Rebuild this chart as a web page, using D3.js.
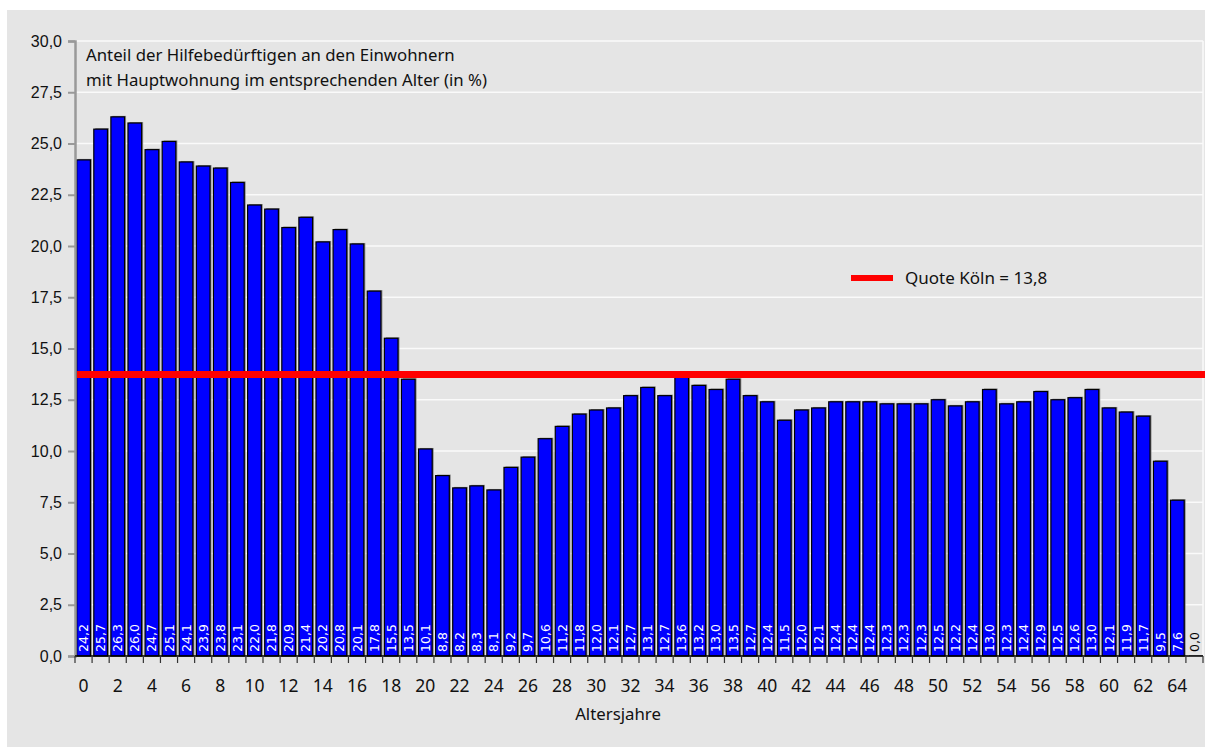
<!DOCTYPE html>
<html>
<head>
<meta charset="utf-8">
<script src="https://cdn.jsdelivr.net/npm/d3@7"></script>
<style>
  body { margin: 0; background: #fff; }
</style>
</head>
<body>
<div id="chart"></div>
<script>
// ages 0..65
let ages = d3.range(0, 66);

// share of people in need per age (in %)
let quoten = [
    24.2, 25.7, 26.3, 26.0, 24.7, 25.1, 24.1, 23.9, 23.8, 23.1,
    22.0, 21.8, 20.9, 21.4, 20.2, 20.8, 20.1, 17.8, 15.5, 13.5,
    10.1, 8.8, 8.2, 8.3, 8.1, 9.2, 9.7, 10.6, 11.2, 11.8,
    12.0, 12.1, 12.7, 13.1, 12.7, 13.6, 13.2, 13.0, 13.5, 12.7,
    12.4, 11.5, 12.0, 12.1, 12.4, 12.4, 12.4, 12.3, 12.3, 12.3,
    12.5, 12.2, 12.4, 13.0, 12.3, 12.4, 12.9, 12.5, 12.6, 13.0,
    12.1, 11.9, 11.7, 9.5, 7.6, 0.0
];

let quoteKoeln = 13.8;

let yTicks = [0, 2.5, 5, 7.5, 10, 12.5, 15, 17.5, 20, 22.5, 25, 27.5, 30];

let titleLines = [
    "Anteil der Hilfebedürftigen an den Einwohnern",
    "mit Hauptwohnung im entsprechenden Alter (in %)"
];

let width = 1205;
let height = 747;

var margin = {
    top: 41,
    right: 2,
    bottom: 91,
    left: 75
};

var svg = d3.select("#chart")
    .append("svg")
    .attr("width", width)
    .attr("height", height);

// grey frame
svg.append("rect")
    .attr("x", 7)
    .attr("y", 10)
    .attr("width", width - 7)
    .attr("height", height - 10)
    .attr("fill", "#e5e5e5");

var fmt = function (v) {
    return d3.format(".1f")(v).replace(".", ",");
}

// scales
var x = d3.scaleBand()
    .domain(ages)
    .range([margin.left, width - margin.right])
    .paddingInner(0.2)
    .paddingOuter(0.1);

var xEdge = d3.scaleLinear()
    .domain([0, ages.length])
    .range([margin.left, width - margin.right]);

var y = d3.scaleLinear()
    .domain([0, 30])
    .range([height - margin.bottom, margin.top]);

// gridlines
svg.append("g")
    .selectAll("line")
    .data(yTicks.slice(1))
    .enter()
    .append("line")
    .attr("x1", margin.left)
    .attr("x2", width - margin.right)
    .attr("y1", d => y(d))
    .attr("y2", d => y(d))
    .attr("stroke", "#fafafa")
    .attr("stroke-width", 1.5);

svg.append("line")
    .attr("x1", width - margin.right)
    .attr("x2", width - margin.right)
    .attr("y1", y(30))
    .attr("y2", y(0))
    .attr("stroke", "#fafafa")
    .attr("stroke-width", 1.5);

// title
svg.append("g")
    .selectAll("text")
    .data(titleLines)
    .enter()
    .append("text")
    .attr("x", 86)
    .attr("y", (d, i) => 61 + i * 25)
    .attr("font-family", "Noto Sans")
    .attr("font-size", 16.8)
    .attr("fill", "#111")
    .text(d => d);

// bars with shadow
svg.append("g")
    .selectAll("rect")
    .data(quoten)
    .enter()
    .append("rect")
    .attr("x", (d, i) => x(ages[i]) + 1.5)
    .attr("y", d => y(d) - 1)
    .attr("width", x.bandwidth())
    .attr("height", d => y(0) - y(d) + 1)
    .attr("fill", "#8a8a8a");

svg.append("g")
    .selectAll("rect")
    .data(quoten)
    .enter()
    .append("rect")
    .attr("x", (d, i) => x(ages[i]))
    .attr("y", d => y(d))
    .attr("width", x.bandwidth())
    .attr("height", d => y(0) - y(d))
    .attr("fill", "#0000ff")
    .attr("stroke", d => d > 0 ? "#000" : "none")
    .attr("stroke-width", 1.2);

// value labels inside bars
svg.append("g")
    .selectAll("text")
    .data(quoten)
    .enter()
    .append("text")
    .attr("transform", (d, i) => "translate(" + (x(ages[i]) + x.bandwidth() / 2 + 4.5) + "," + (y(0) - 4) + ") rotate(-90)")
    .attr("font-family", "DejaVu Sans")
    .attr("font-size", 12.5)
    .attr("fill", d => d > 0 ? "#fff" : "#000")
    .text(d => fmt(d));

// y axis
var yAxis = svg.append("g")
    .attr("transform", "translate(" + margin.left + ",0)")
    .call(d3.axisLeft(y).tickValues(yTicks).tickFormat(fmt).tickSize(7).tickPadding(6));

yAxis.select(".domain").attr("stroke", "#999").attr("stroke-width", 2.5);
yAxis.selectAll(".tick line").attr("stroke", "#999").attr("stroke-width", 2);
yAxis.selectAll(".tick text")
    .attr("font-family", "Liberation Sans")
    .attr("font-size", 16)
    .attr("fill", "#111");

// x axis line and boundary ticks
svg.append("line")
    .attr("x1", margin.left)
    .attr("x2", width - margin.right)
    .attr("y1", y(0))
    .attr("y2", y(0))
    .attr("stroke", "#000")
    .attr("stroke-width", 1.5);

svg.append("g")
    .selectAll("line")
    .data(d3.range(0, ages.length + 1))
    .enter()
    .append("line")
    .attr("x1", d => xEdge(d))
    .attr("x2", d => xEdge(d))
    .attr("y1", y(0))
    .attr("y2", y(0) + 7)
    .attr("stroke", "#333")
    .attr("stroke-width", 1.2);

svg.append("g")
    .selectAll("text")
    .data(ages.filter(a => a % 2 === 0 && a <= 64))
    .enter()
    .append("text")
    .attr("x", d => (xEdge(d) + xEdge(d + 1)) / 2)
    .attr("y", 692)
    .attr("text-anchor", "middle")
    .attr("font-family", "Noto Sans")
    .attr("font-size", 17.5)
    .attr("fill", "#111")
    .text(d => d);

svg.append("text")
    .attr("x", 618)
    .attr("y", 720)
    .attr("text-anchor", "middle")
    .attr("font-family", "Noto Sans")
    .attr("font-size", 16.8)
    .attr("fill", "#111")
    .text("Altersjahre");

// Cologne average line
svg.append("line")
    .attr("x1", margin.left + 2)
    .attr("x2", width)
    .attr("y1", y(quoteKoeln) + 1.5)
    .attr("y2", y(quoteKoeln) + 1.5)
    .attr("stroke", "#ff0000")
    .attr("stroke-width", 7);

// legend
svg.append("line")
    .attr("x1", 851)
    .attr("x2", 893)
    .attr("y1", 278)
    .attr("y2", 278)
    .attr("stroke", "#ff0000")
    .attr("stroke-width", 6);

svg.append("text")
    .attr("x", 905)
    .attr("y", 284)
    .attr("font-family", "Noto Sans")
    .attr("font-size", 17)
    .attr("fill", "#111")
    .text("Quote Köln = " + fmt(quoteKoeln));
</script>
</body>
</html>
